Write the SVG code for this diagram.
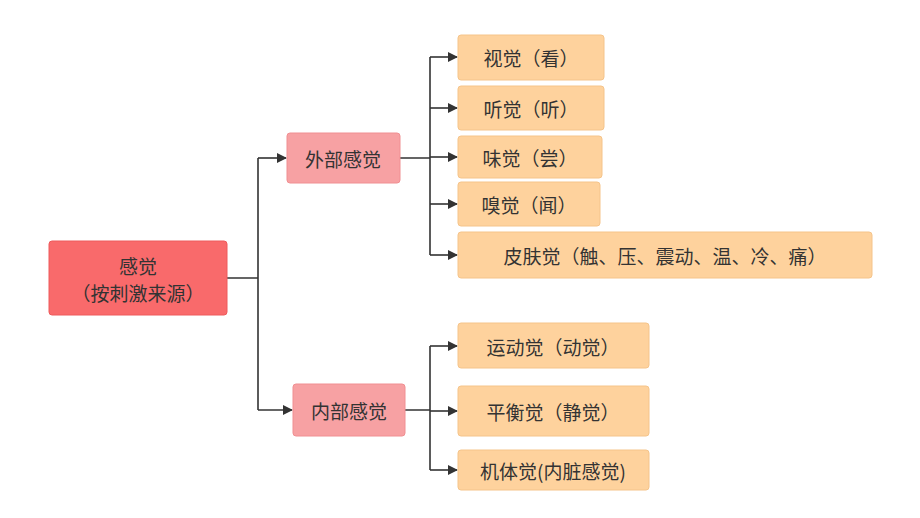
<svg xmlns="http://www.w3.org/2000/svg" width="920" height="518" viewBox="0 0 920 518">
<style>
text{font-family:"Noto Sans CJK SC","Noto Sans",sans-serif;font-size:19px;fill:#333;dominant-baseline:central;text-anchor:middle}
.leaf{fill:#FED29D;stroke:#F5C48A;stroke-width:1}
.mid{fill:#F7A1A3;stroke:#F08F92;stroke-width:1}
.root{fill:#F96A6B;stroke:#EE5A5C;stroke-width:1}
.c{fill:none;stroke:#333;stroke-width:1.6}
</style>
<defs><marker id="a" markerWidth="10" markerHeight="10" refX="9" refY="5" orient="auto" markerUnits="userSpaceOnUse"><path d="M0,0 L10,5 L0,10 z" fill="#333"/></marker></defs>
<rect width="920" height="518" fill="#fff"/>
<g id="connectors">
<path class="c" d="M227,278 H258 M258,158 V410"/>
<path class="c" d="M258,158 H286" marker-end="url(#a)"/>
<path class="c" d="M258,410 H292" marker-end="url(#a)"/>
<path class="c" d="M400,158 H430 M430,57 V255"/>
<path class="c" d="M430,57 H457" marker-end="url(#a)"/>
<path class="c" d="M430,108 H457" marker-end="url(#a)"/>
<path class="c" d="M430,157 H457" marker-end="url(#a)"/>
<path class="c" d="M430,204 H457" marker-end="url(#a)"/>
<path class="c" d="M430,255 H457" marker-end="url(#a)"/>
<path class="c" d="M405,410 H430 M430,346 V470"/>
<path class="c" d="M430,346 H457" marker-end="url(#a)"/>
<path class="c" d="M430,411 H457" marker-end="url(#a)"/>
<path class="c" d="M430,470 H457" marker-end="url(#a)"/>
</g>
<g id="root"><rect class="root" x="49" y="241" width="178" height="74" rx="3"/><text x="138" y="265">感觉</text><text x="138" y="292">（按刺激来源）</text></g>
<g id="ext"><rect class="mid" x="287" y="133" width="113" height="50" rx="3"/><text x="343" y="158">外部感觉</text></g>
<g id="int"><rect class="mid" x="293" y="384" width="112" height="52" rx="3"/><text x="349" y="410">内部感觉</text></g>
<g id="n1"><rect class="leaf" x="458" y="35" width="146" height="45" rx="3"/><text x="531" y="57">视觉（看）</text></g>
<g id="n2"><rect class="leaf" x="458" y="86" width="146" height="44" rx="3"/><text x="531" y="108">听觉（听）</text></g>
<g id="n3"><rect class="leaf" x="458" y="136" width="144" height="42" rx="3"/><text x="530" y="157">味觉（尝）</text></g>
<g id="n4"><rect class="leaf" x="458" y="182" width="142" height="44" rx="3"/><text x="529" y="204">嗅觉（闻）</text></g>
<g id="n5"><rect class="leaf" x="458" y="232" width="414" height="46" rx="3"/><text x="665" y="255">皮肤觉（触、压、震动、温、冷、痛）</text></g>
<g id="n6"><rect class="leaf" x="458" y="323" width="191" height="45" rx="3"/><text x="553" y="346">运动觉（动觉）</text></g>
<g id="n7"><rect class="leaf" x="458" y="386" width="191" height="50" rx="3"/><text x="553" y="411">平衡觉（静觉）</text></g>
<g id="n8"><rect class="leaf" x="458" y="450" width="191" height="40" rx="3"/><text x="553" y="470">机体觉(内脏感觉)</text></g>
</svg>
